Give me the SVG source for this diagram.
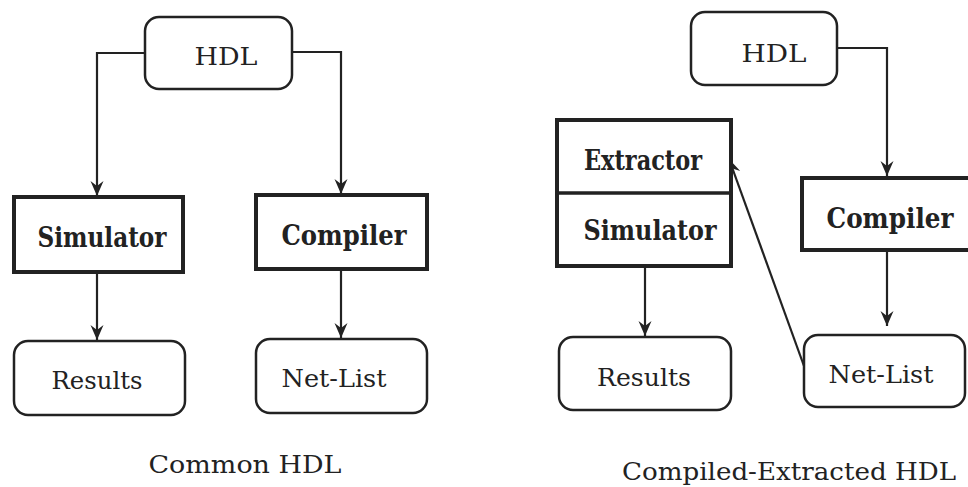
<svg xmlns="http://www.w3.org/2000/svg" width="968" height="487" viewBox="0 0 968 487">
<style>
.bg{fill:#fff}
.soft{fill:#fff;stroke:#222;stroke-width:2.5}
.hard{fill:#fff;stroke:#222;stroke-width:4}
.conn{fill:none;stroke:#222;stroke-width:2.2}
text{font-family:"DejaVu Serif","Liberation Serif",serif;fill:#222;text-anchor:middle}
.b{font-weight:bold;font-size:27px}
.r{font-size:25px}
</style>
<defs>
<marker id="ah" viewBox="0 0 16 14" refX="15" refY="7" markerWidth="16" markerHeight="14" markerUnits="userSpaceOnUse" orient="auto">
<path d="M0,0.5 L15,7 L0,13.5 L5,7 Z" fill="#222"/>
</marker>
</defs>
<rect class="bg" width="968" height="487"/>
<g id="connectors">
<path class="conn" d="M145,53 H97 V196" marker-end="url(#ah)"/>
<path class="conn" d="M292,52 H341 V194" marker-end="url(#ah)"/>
<path class="conn" d="M97,272 V340" marker-end="url(#ah)"/>
<path class="conn" d="M341,269 V338" marker-end="url(#ah)"/>
<path class="conn" d="M837,48 H887 V176" marker-end="url(#ah)"/>
<path class="conn" d="M645,266 V336" marker-end="url(#ah)"/>
<path class="conn" d="M887,250 V326" marker-end="url(#ah)"/>
<path class="conn" d="M804,366 L729,159" marker-end="url(#ah)"/>
</g>
<g id="hdl-left">
<rect class="soft" x="145" y="17" width="147" height="72" rx="14"/>
<text class="r" x="226" y="65" textLength="63" lengthAdjust="spacingAndGlyphs">HDL</text>
</g>
<g id="simulator-left">
<rect class="hard" x="14" y="197" width="169" height="75"/>
<text class="b" x="102" y="247" textLength="129" lengthAdjust="spacingAndGlyphs">Simulator</text>
</g>
<g id="compiler-left">
<rect class="hard" x="256" y="195" width="171" height="74"/>
<text class="b" x="344" y="245" textLength="125" lengthAdjust="spacingAndGlyphs">Compiler</text>
</g>
<g id="results-left">
<rect class="soft" x="14" y="341" width="171" height="74" rx="14"/>
<text class="r" x="97" y="389" textLength="91" lengthAdjust="spacingAndGlyphs">Results</text>
</g>
<g id="netlist-left">
<rect class="soft" x="256" y="339" width="171" height="74" rx="14"/>
<text class="r" x="334" y="387" textLength="105" lengthAdjust="spacingAndGlyphs">Net-List</text>
</g>
<g id="caption-left">
<text class="r" x="245" y="473" textLength="193" lengthAdjust="spacingAndGlyphs">Common HDL</text>
</g>
<g id="hdl-right">
<rect class="soft" x="691" y="12" width="146" height="73" rx="14"/>
<text class="r" x="774" y="62" textLength="65" lengthAdjust="spacingAndGlyphs">HDL</text>
</g>
<g id="extractor-simulator">
<rect class="hard" x="557" y="120" width="174" height="146"/>
<line x1="557" y1="193" x2="731" y2="193" stroke="#222" stroke-width="3.5"/>
<text class="b" x="643" y="170" textLength="118" lengthAdjust="spacingAndGlyphs">Extractor</text>
<text class="b" x="650" y="240" textLength="133" lengthAdjust="spacingAndGlyphs">Simulator</text>
</g>
<g id="compiler-right">
<rect class="hard" x="802" y="178" width="172" height="72"/>
<text class="b" x="890" y="228" textLength="127" lengthAdjust="spacingAndGlyphs">Compiler</text>
</g>
<g id="results-right">
<rect class="soft" x="559" y="337" width="172" height="73" rx="14"/>
<text class="r" x="644" y="386" textLength="94" lengthAdjust="spacingAndGlyphs">Results</text>
</g>
<g id="netlist-right">
<rect class="soft" x="804" y="335" width="161" height="72" rx="14"/>
<text class="r" x="881" y="383" textLength="105" lengthAdjust="spacingAndGlyphs">Net-List</text>
</g>
<g id="caption-right">
<text class="r" x="789" y="480" textLength="334" lengthAdjust="spacingAndGlyphs">Compiled-Extracted HDL</text>
</g>
</svg>
